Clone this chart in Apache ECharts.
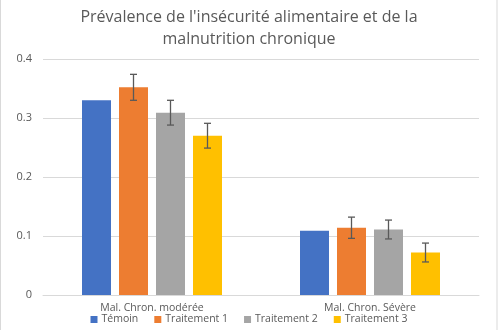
<!DOCTYPE html>
<html><head><meta charset="utf-8">
<script src="https://cdn.jsdelivr.net/npm/echarts@6/dist/echarts.min.js"></script>
<style>html,body{margin:0;padding:0;background:#fff}#c{width:498px;height:330px}</style>
</head><body><div id="c"></div>
<script>
const categories = ['Mal. Chron. modérée', 'Mal. Chron. Sévère'];
const seriesNames = ['Témoin', 'Traitement 1', 'Traitement 2', 'Traitement 3'];
const temoin = [0.33, 0.109];
const traitement1 = [0.352, 0.114];
const traitement2 = [0.309, 0.111];
const traitement3 = [0.27, 0.072];
const err1 = [0.022, 0.018];
const err2 = [0.021, 0.016];
const err3 = [0.021, 0.016];
const yTicks = [0, 0.1, 0.2, 0.3, 0.4];

const colors = ['#4472C4', '#ED7D31', '#A5A5A5', '#FFC000'];
const values = [temoin, traitement1, traitement2, traitement3];
const errs = [null, err1, err2, err3];
const BW = 29, GAP = 8;

const chart = echarts.init(document.getElementById('c'));
const series = [];
values.forEach((v, i) => {
  series.push({
    name: seriesNames[i], type: 'bar', data: v, barWidth: BW, barGap: (GAP / BW * 100) + '%',
    itemStyle: { color: colors[i] }
  });
});
values.forEach((v, i) => {
  if (!errs[i]) return;
  const off = (i - 1.5) * (BW + GAP);
  series.push({
    type: 'custom', z: 10, silent: true,
    data: v.map((val, k) => [k, val - errs[i][k], val + errs[i][k]]),
    renderItem: function (params, api) {
      const lo = api.coord([api.value(0), api.value(1)]);
      const hi = api.coord([api.value(0), api.value(2)]);
      const x = lo[0] + off, c = 3.5;
      const st = { stroke: '#595959', lineWidth: 1.3 };
      return { type: 'group', children: [
        { type: 'line', shape: { x1: x, y1: lo[1], x2: x, y2: hi[1] }, style: st },
        { type: 'line', shape: { x1: x - c, y1: lo[1], x2: x + c, y2: lo[1] }, style: st },
        { type: 'line', shape: { x1: x - c, y1: hi[1], x2: x + c, y2: hi[1] }, style: st }
      ]};
    }
  });
});

chart.setOption({
  animation: false,
  title: {
    text: "Prévalence de l'insécurité alimentaire et de la\nmalnutrition chronique",
    left: 'center', top: 1,
    textStyle: { fontFamily: 'Open Sans', fontSize: 16, fontWeight: 'normal', color: '#595959', lineHeight: 22 }
  },
  legend: {
    data: seriesNames, top: 314, padding: 0, left: 'center', icon: 'rect', itemWidth: 7, itemHeight: 7, itemGap: 16,
    textStyle: { fontFamily: 'Open Sans', fontSize: 10.5, color: '#595959', padding: [0, 0, 0, -1] }
  },
  grid: { left: 43, right: 19, top: 59, bottom: 35, containLabel: false },
  xAxis: {
    type: 'category', data: categories,
    axisLine: { lineStyle: { color: '#d9d9d9' } }, axisTick: { show: false },
    axisLabel: { fontFamily: 'Open Sans', fontSize: 10.5, color: '#595959', margin: 8 }
  },
  yAxis: {
    type: 'value', min: yTicks[0], max: yTicks[yTicks.length - 1], interval: 0.1,
    splitLine: { lineStyle: { color: '#d9d9d9' } },
    axisLabel: { fontFamily: 'Open Sans', fontSize: 11, color: '#595959', margin: 11 }
  },
  graphic: [
    { type: 'rect', shape: { x: 0.5, y: -1, width: 496.5, height: 340 }, style: { fill: 'none', stroke: '#d9d9d9', lineWidth: 1 } }
  ],
  series: series
});
</script></body></html>
